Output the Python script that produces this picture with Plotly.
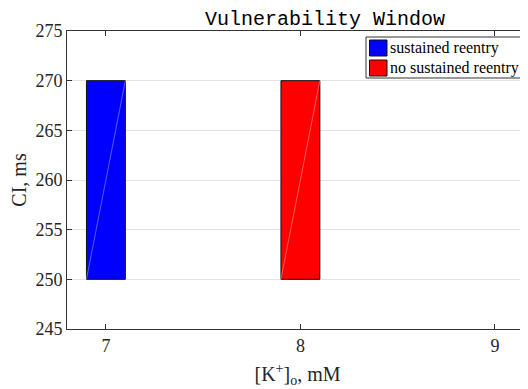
import plotly.graph_objects as go

# ---- data ----
k_values = [7, 8]                 # [K+]o, mM
ci_low = [250, 250]               # CI window start, ms
ci_high = [270, 270]              # CI window end, ms
series_names = ["sustained reentry", "no sustained reentry"]
series_colors = ["#0000ff", "#ff0000"]
x_ticks = [7, 8, 9]
y_ticks = [245, 250, 255, 260, 265, 270, 275]

BAR_W = 0.2
OFF = 8                            # default page body margin
W, H = 528 - OFF, 389 - OFF
L, R, T, B = 67 - OFF, 0, 31 - OFF, 60
SERIF = "Liberation Serif, Times New Roman, serif"
MONO = "Courier New, Liberation Mono, monospace"
AX = "#333333"

fig = go.Figure()
for k, lo, hi, name, col in zip(k_values, ci_low, ci_high, series_names, series_colors):
    fig.add_trace(go.Bar(x=[k], base=[lo], y=[hi - lo], width=BAR_W, name=name,
                         marker=dict(color=col, line=dict(color="#111111", width=1)),
                         showlegend=False))
    fig.add_trace(go.Scatter(x=[k - BAR_W / 2, k + BAR_W / 2], y=[lo, hi], mode="lines",
                             line=dict(color="rgba(255,255,255,0.45)", width=0.8),
                             hoverinfo="skip", showlegend=False))

pw = W - L - R
ph = H - T - B
def px_x(p):
    return (p - OFF - L) / pw
def px_y(p):
    return (H - B - (p - OFF)) / ph

# manual MATLAB-style legend (page pixel positions)
shapes = [dict(type="rect", xref="paper", yref="paper",
               x0=px_x(366), x1=px_x(545), y0=px_y(78), y1=px_y(37),
               line=dict(color=AX, width=1), fillcolor="white", layer="above")]
annotations = []
for i, (name, col) in enumerate(zip(series_names, series_colors)):
    yc = 48 + 20 * i
    shapes.append(dict(type="rect", xref="paper", yref="paper",
                       x0=px_x(369.5), x1=px_x(387), y0=px_y(yc + 8), y1=px_y(yc - 8),
                       line=dict(color="#111111", width=1), fillcolor=col, layer="above"))
    annotations.append(dict(text=name, xref="paper", yref="paper", x=px_x(387.5), y=px_y(yc),
                            xanchor="left", yanchor="middle", showarrow=False,
                            font=dict(family=SERIF, size=16, color="#000000")))

fig.update_layout(
    width=W, height=H,
    margin=dict(l=L, r=R, t=T, b=B),
    paper_bgcolor="white", plot_bgcolor="white",
    barmode="overlay",
    shapes=shapes, annotations=annotations,
    title=dict(text="Vulnerability Window", xref="container", yref="container",
               x=(325 - OFF) / W, y=1 - (18 - OFF) / H, xanchor="center", yanchor="middle",
               font=dict(family=MONO, size=20, color="#000000")),
    xaxis=dict(range=[6.8, 6.8 + pw / 194.5], tickvals=x_ticks, ticks="inside", ticklen=5,
               tickcolor=AX, showline=True, linecolor=AX, linewidth=1, mirror="ticks",
               showgrid=False, zeroline=False,
               tickfont=dict(family=SERIF, size=18, color="#262626"),
               title=dict(text="[K<sup>+</sup>]<sub>o</sub>, mM", standoff=12,
                          font=dict(family=SERIF, size=20, color="#262626"))),
    yaxis=dict(range=[245, 275], tickvals=y_ticks, ticks="inside", ticklen=5,
               tickcolor=AX, showline=True, linecolor=AX, linewidth=1, mirror=False,
               showgrid=True, gridcolor="#e3e3e3", gridwidth=1, zeroline=False,
               tickfont=dict(family=SERIF, size=18, color="#262626"),
               title=dict(text="CI, ms", standoff=5,
                          font=dict(family=SERIF, size=20, color="#262626"))),
)

fig.write_html("out.html")
